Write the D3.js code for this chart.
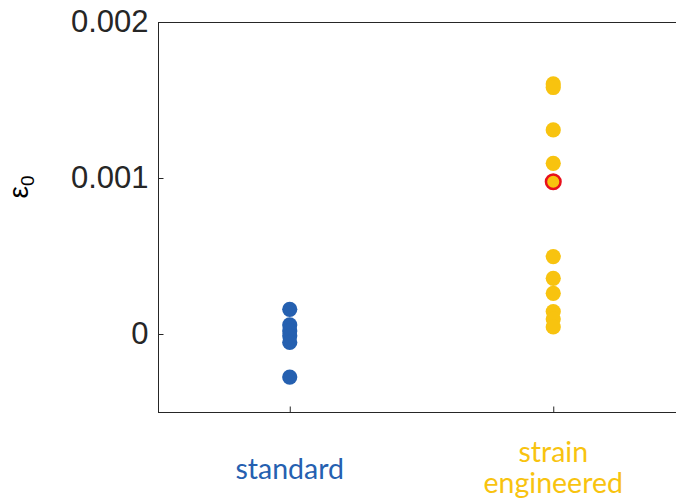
<!DOCTYPE html>
<html><head><meta charset="utf-8">
<script src="https://cdn.jsdelivr.net/npm/d3@7"></script>
<style>body{margin:0;background:#fff}svg{display:block}</style>
</head><body>
<svg id="c" width="676" height="504"></svg>
<script>
const categories = ["standard", "strain engineered"];
const categoryColors = ["#2560b0", "#f8c30f"];
const standardValues = [0.000158, 0.000058, 0.000020, -0.000012, -0.000054, -0.000276];
const strainValues = [0.001603, 0.001580, 0.001308, 0.001094, 0.000496, 0.000357, 0.000261, 0.000144, 0.000096, 0.000045];
const highlightedValue = 0.000976;
const yTicks = [0, 0.001, 0.002];
const yTickLabels = ["0", "0.001", "0.002"];

(function () {
const svg = d3.select("#c");
const mLeft = 158, mTop = 22, mBottom = 412;
const x = d3.scaleLinear().domain([0.5, 2.5]).range([mLeft, mLeft + 2 * 263.5]);
const y = d3.scaleLinear().domain([-0.0005, 0.002]).range([mBottom, mTop]);
const axisColor = "#262626";

svg.append("line").attr("x1", mLeft).attr("x2", 676).attr("y1", mTop + 0.5).attr("y2", mTop + 0.5)
  .attr("stroke", axisColor).attr("stroke-width", 1);

const yAxis = d3.axisLeft(y).tickValues(yTicks).tickFormat((d, i) => yTickLabels[i]).tickSize(-5).tickPadding(10);
const gy = svg.append("g").attr("transform", `translate(${mLeft + 0.5},0)`).call(yAxis);
gy.select(".domain").attr("stroke", axisColor).attr("d", `M0,${mTop}V${mBottom}`);
gy.selectAll(".tick line").attr("stroke", axisColor);
gy.selectAll(".tick text").attr("font-family", "Liberation Sans, Arial, sans-serif").attr("font-size", 31).attr("fill", "#262626");

const xAxis = d3.axisBottom(x).tickValues([1, 2]).tickFormat("").tickSize(-6);
const gx = svg.append("g").attr("transform", `translate(0,${mBottom + 0.5})`).call(xAxis);
gx.select(".domain").attr("stroke", axisColor).attr("d", `M${mLeft},0H676`);
gx.selectAll(".tick line").attr("stroke", axisColor);

svg.append("text").attr("x", x(1)).attr("y", 479).attr("text-anchor", "middle")
  .attr("font-family", "Lato, Open Sans, sans-serif").attr("font-size", 28.5).attr("fill", categoryColors[0]).text(categories[0]);
const words = categories[1].split(" ");
words.forEach((w, i) => {
  svg.append("text").attr("x", x(2)).attr("y", 462 + i * 31).attr("text-anchor", "middle")
    .attr("font-family", "Lato, Open Sans, sans-serif").attr("font-size", 28.5).attr("fill", categoryColors[1]).text(w);
});

const yl = svg.append("text").attr("transform", "translate(28,187) rotate(-90)").attr("text-anchor", "middle")
  .attr("font-family", "Liberation Sans, sans-serif").attr("font-size", 28).attr("fill", "#000");
yl.append("tspan").text("ε");
yl.append("tspan").attr("font-size", 19).attr("dy", 6).text("0");

const r = 7.6;
svg.append("g").selectAll("circle").data(standardValues).join("circle")
  .attr("cx", x(1)).attr("cy", d => y(d)).attr("r", r).attr("fill", categoryColors[0]);
svg.append("g").selectAll("circle").data(strainValues).join("circle")
  .attr("cx", x(2)).attr("cy", d => y(d)).attr("r", r).attr("fill", categoryColors[1]);
svg.append("circle").attr("cx", x(2)).attr("cy", y(highlightedValue)).attr("r", 7.3)
  .attr("fill", categoryColors[1]).attr("stroke", "#e8101c").attr("stroke-width", 2.5);
})();
</script>
</body></html>
